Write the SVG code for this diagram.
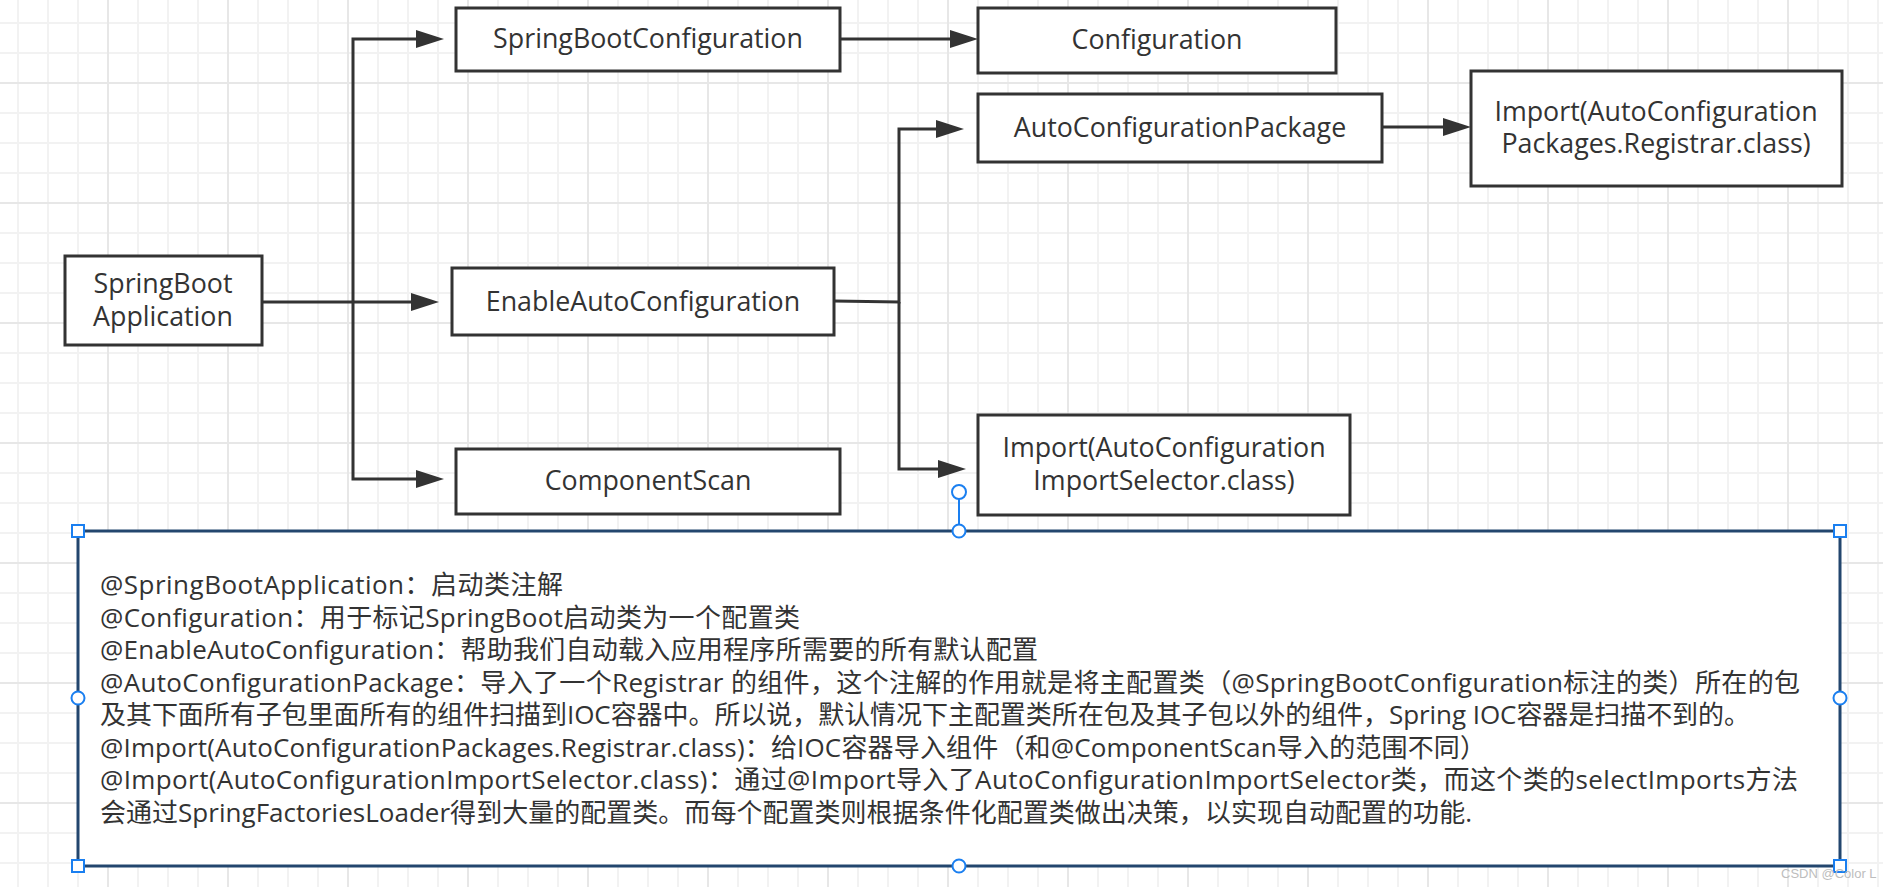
<svg xmlns="http://www.w3.org/2000/svg" width="1883" height="887" viewBox="0 0 1883 887">
<style>
.node rect{fill:#fff;stroke:#333;stroke-width:3}
.lbl{font-family:"Open Sans","Noto Sans CJK SC",sans-serif;font-size:26.8px;fill:#333;text-anchor:middle}
.conn path{fill:none;stroke:#333;stroke-width:3}
.note{font-family:"Open Sans","Noto Sans CJK SC",sans-serif;font-size:26px;fill:#333}
.h{fill:#fff;stroke:#1a7ff0;stroke-width:2}
</style>
<defs>
<pattern id="grid" x="107" y="82" width="120" height="120" patternUnits="userSpaceOnUse">
<rect width="120" height="120" fill="#fff"/>
<g fill="#f2f2f2">
<rect x="30" y="0" width="2" height="120"/><rect x="60" y="0" width="2" height="120"/><rect x="90" y="0" width="2" height="120"/>
<rect x="0" y="30" width="120" height="2"/><rect x="0" y="60" width="120" height="2"/><rect x="0" y="90" width="120" height="2"/>
</g>
<g fill="#e7e7e7">
<rect x="0" y="0" width="2" height="120"/><rect x="0" y="0" width="120" height="2"/>
</g>
</pattern>
<marker id="arr" markerUnits="userSpaceOnUse" markerWidth="28" markerHeight="18" refX="0" refY="9" orient="auto" viewBox="0 0 28 18">
<path d="M0,0 L28,9 L0,18 Z" fill="#333"/>
</marker>
</defs>
<rect width="1883" height="887" fill="url(#grid)"/>

<g id="connectors" class="conn">
<path d="M262,302 L411,302" marker-end="url(#arr)"/>
<path d="M353,302 L353,39 L416,39" marker-end="url(#arr)"/>
<path d="M353,302 L353,479 L416,479" marker-end="url(#arr)"/>
<path d="M840,39 L950,39" marker-end="url(#arr)"/>
<path d="M834,301 L899,302 L899,129 L936,129" marker-end="url(#arr)"/>
<path d="M899,302 L899,469 L938,469" marker-end="url(#arr)"/>
<path d="M1382,127 L1443,127" marker-end="url(#arr)"/>
</g>

<g id="n-app" class="node">
<rect x="65" y="256" width="197" height="89"/>
<text class="lbl" x="163" y="293">SpringBoot<tspan x="163" dy="33">Application</tspan></text>
</g>
<g id="n-sbc" class="node">
<rect x="456" y="8" width="384" height="63"/>
<text class="lbl" x="648" y="48">SpringBootConfiguration</text>
</g>
<g id="n-conf" class="node">
<rect x="978" y="8" width="358" height="65"/>
<text class="lbl" x="1157" y="49">Configuration</text>
</g>
<g id="n-acp" class="node">
<rect x="978" y="94" width="404" height="68"/>
<text class="lbl" x="1180" y="137">AutoConfigurationPackage</text>
</g>
<g id="n-reg" class="node">
<rect x="1471" y="71" width="371" height="115"/>
<text class="lbl" x="1656" y="121">Import(AutoConfiguration<tspan x="1656" dy="32">Packages.Registrar.class)</tspan></text>
</g>
<g id="n-eac" class="node">
<rect x="452" y="268" width="382" height="67"/>
<text class="lbl" x="643" y="311">EnableAutoConfiguration</text>
</g>
<g id="n-cs" class="node">
<rect x="456" y="449" width="384" height="65"/>
<text class="lbl" x="648" y="490">ComponentScan</text>
</g>
<g id="n-sel" class="node">
<rect x="978" y="415" width="372" height="100"/>
<text class="lbl" x="1164" y="457">Import(AutoConfiguration<tspan x="1164" dy="33">ImportSelector.class)</tspan></text>
</g>

<g id="note">
<rect x="78" y="531" width="1762" height="335" fill="#fff" stroke="#23466e" stroke-width="3"/>
<text class="note" x="100" y="594" textLength="463" lengthAdjust="spacing">@SpringBootApplication：启动类注解</text>
<text class="note" x="100" y="626.5" textLength="700" lengthAdjust="spacing">@Configuration：用于标记SpringBoot启动类为一个配置类</text>
<text class="note" x="100" y="659" textLength="938" lengthAdjust="spacing">@EnableAutoConfiguration：帮助我们自动载入应用程序所需要的所有默认配置</text>
<text class="note" x="100" y="691.5" textLength="1700" lengthAdjust="spacing">@AutoConfigurationPackage：导入了一个Registrar 的组件，这个注解的作用就是将主配置类（@SpringBootConfiguration标注的类）所在的包</text>
<text class="note" x="100" y="724" textLength="1650" lengthAdjust="spacing">及其下面所有子包里面所有的组件扫描到IOC容器中。所以说，默认情况下主配置类所在包及其子包以外的组件，Spring IOC容器是扫描不到的。</text>
<text class="note" x="100" y="756.5" textLength="1386" lengthAdjust="spacing">@Import(AutoConfigurationPackages.Registrar.class)：给IOC容器导入组件（和@ComponentScan导入的范围不同）</text>
<text class="note" x="100" y="789" textLength="1698" lengthAdjust="spacing">@Import(AutoConfigurationImportSelector.class)：通过@Import导入了AutoConfigurationImportSelector类，而这个类的selectImports方法</text>
<text class="note" x="100" y="821.5" textLength="1372" lengthAdjust="spacing">会通过SpringFactoriesLoader得到大量的配置类。而每个配置类则根据条件化配置类做出决策，以实现自动配置的功能.</text>
</g>

<g id="handles">
<line x1="959" y1="499" x2="959" y2="525" stroke="#1a7ff0" stroke-width="2"/>
<circle class="h" cx="959" cy="492" r="7"/>
<circle class="h" cx="959" cy="531" r="6.5"/>
<circle class="h" cx="959" cy="866" r="6.5"/>
<circle class="h" cx="78" cy="698" r="6.5"/>
<circle class="h" cx="1840" cy="698" r="6.5"/>
<rect class="h" x="72" y="525" width="12" height="12"/>
<rect class="h" x="1834" y="525" width="12" height="12"/>
<rect class="h" x="72" y="860" width="12" height="12"/>
<rect class="h" x="1834" y="860" width="12" height="12"/>
</g>

<text x="1781" y="878" font-family="'Liberation Sans',sans-serif" font-size="13" fill="#bdbdbd">CSDN @Color L</text>
</svg>
